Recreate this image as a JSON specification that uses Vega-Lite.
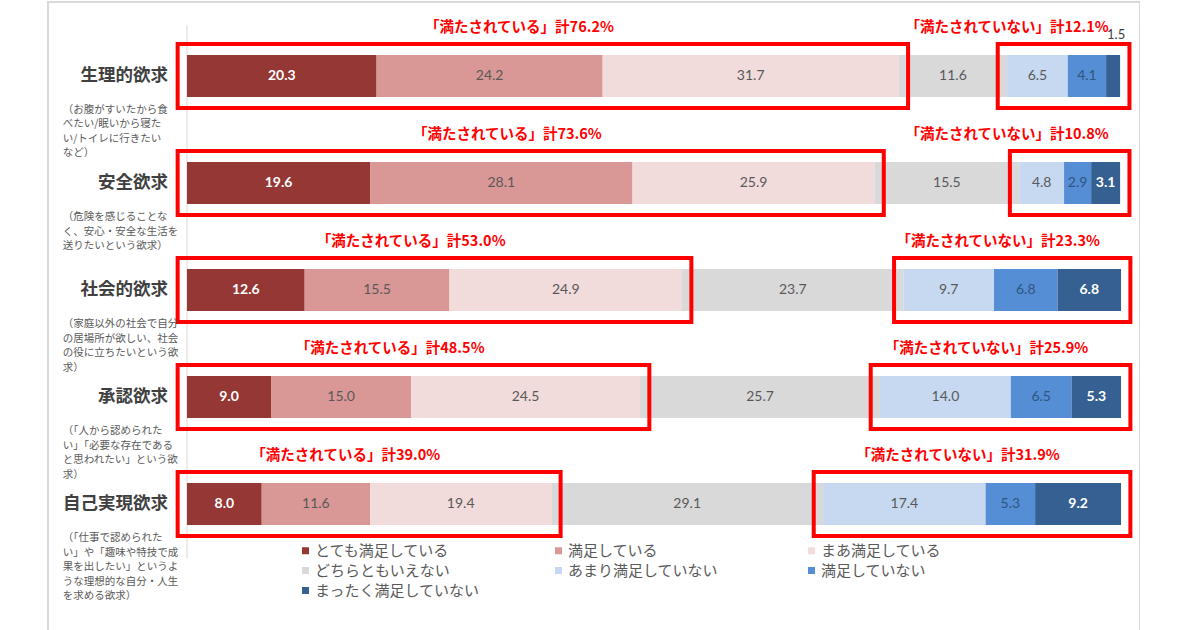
{
  "$schema": "https://vega.github.io/schema/vega-lite/v6.json",
  "autosize": {"type": "none"},
  "padding": {"left": 48, "top": 2, "right": 0, "bottom": 0},
  "width": 1092,
  "height": 640,
  "background": "white",
  "config": {"view": {"stroke": "#D9D9D9", "strokeWidth": 2}},
  "datasets": {
    "bars": [
      {"need": "生理的欲求", "cat": "とても満足している", "value": 20.3},
      {"need": "生理的欲求", "cat": "満足している", "value": 24.2},
      {"need": "生理的欲求", "cat": "まあ満足している", "value": 31.7},
      {"need": "生理的欲求", "cat": "どちらともいえない", "value": 11.6},
      {"need": "生理的欲求", "cat": "あまり満足していない", "value": 6.5},
      {"need": "生理的欲求", "cat": "満足していない", "value": 4.1},
      {"need": "生理的欲求", "cat": "まったく満足していない", "value": 1.5},
      {"need": "安全欲求", "cat": "とても満足している", "value": 19.6},
      {"need": "安全欲求", "cat": "満足している", "value": 28.1},
      {"need": "安全欲求", "cat": "まあ満足している", "value": 25.9},
      {"need": "安全欲求", "cat": "どちらともいえない", "value": 15.5},
      {"need": "安全欲求", "cat": "あまり満足していない", "value": 4.8},
      {"need": "安全欲求", "cat": "満足していない", "value": 2.9},
      {"need": "安全欲求", "cat": "まったく満足していない", "value": 3.1},
      {"need": "社会的欲求", "cat": "とても満足している", "value": 12.6},
      {"need": "社会的欲求", "cat": "満足している", "value": 15.5},
      {"need": "社会的欲求", "cat": "まあ満足している", "value": 24.9},
      {"need": "社会的欲求", "cat": "どちらともいえない", "value": 23.7},
      {"need": "社会的欲求", "cat": "あまり満足していない", "value": 9.7},
      {"need": "社会的欲求", "cat": "満足していない", "value": 6.8},
      {"need": "社会的欲求", "cat": "まったく満足していない", "value": 6.8},
      {"need": "承認欲求", "cat": "とても満足している", "value": 9.0},
      {"need": "承認欲求", "cat": "満足している", "value": 15.0},
      {"need": "承認欲求", "cat": "まあ満足している", "value": 24.5},
      {"need": "承認欲求", "cat": "どちらともいえない", "value": 25.7},
      {"need": "承認欲求", "cat": "あまり満足していない", "value": 14.0},
      {"need": "承認欲求", "cat": "満足していない", "value": 6.5},
      {"need": "承認欲求", "cat": "まったく満足していない", "value": 5.3},
      {"need": "自己実現欲求", "cat": "とても満足している", "value": 8.0},
      {"need": "自己実現欲求", "cat": "満足している", "value": 11.6},
      {"need": "自己実現欲求", "cat": "まあ満足している", "value": 19.4},
      {"need": "自己実現欲求", "cat": "どちらともいえない", "value": 29.1},
      {"need": "自己実現欲求", "cat": "あまり満足していない", "value": 17.4},
      {"need": "自己実現欲求", "cat": "満足していない", "value": 5.3},
      {"need": "自己実現欲求", "cat": "まったく満足していない", "value": 9.2}
    ],
    "totals": [
      {"need": "生理的欲求", "sat": 76.2, "unsat": 12.1},
      {"need": "安全欲求", "sat": 73.6, "unsat": 10.8},
      {"need": "社会的欲求", "sat": 53.0, "unsat": 23.3},
      {"need": "承認欲求", "sat": 48.5, "unsat": 25.9},
      {"need": "自己実現欲求", "sat": 39.0, "unsat": 31.9}
    ],
    "desc": [
      {"need": "生理的欲求", "desc": "（お腹がすいたから食\nべたい/眠いから寝た\nい/トイレに行きたい\nなど）"},
      {"need": "安全欲求", "desc": "（危険を感じることな\nく、安心・安全な生活を\n送りたいという欲求）"},
      {"need": "社会的欲求", "desc": "（家庭以外の社会で自分\nの居場所が欲しい、社会\nの役に立ちたいという欲\n求）"},
      {"need": "承認欲求", "desc": "（「人から認められた\nい」「必要な存在である\nと思われたい」という欲\n求）"},
      {"need": "自己実現欲求", "desc": "（「仕事で認められた\nい」や「趣味や特技で成\n果を出したい」というよ\nうな理想的な自分・人生\nを求める欲求）"}
    ]
  },
  "encoding": {
    "y": {
      "field": "need",
      "type": "nominal",
      "sort": ["生理的欲求", "安全欲求", "社会的欲求", "承認欲求", "自己実現欲求"],
      "scale": {"paddingInner": 0.6075, "paddingOuter": 0.794, "align": 0.3118},
      "axis": null
    }
  },
  "layer": [
    {
      "data": {"values": [{}]},
      "mark": {"type": "rule", "color": "#D9D9D9", "strokeWidth": 1},
      "encoding": {
        "x": {"datum": 0, "type": "quantitative", "scale": {"domain": [-14.88, 102.03], "nice": false, "zero": false}, "axis": null},
        "y": {"datum": "生理的欲求", "type": "nominal", "bandPosition": -0.71},
        "y2": {"datum": "自己実現欲求", "bandPosition": 1.79}
      }
    },
    {
      "data": {"name": "bars"},
      "transform": [
        {"calculate": "indexof(['とても満足している','満足している','まあ満足している','どちらともいえない','あまり満足していない','満足していない','まったく満足していない'], datum.cat)", "as": "ord"},
        {"stack": "value", "groupby": ["need"], "sort": [{"field": "ord", "order": "ascending"}], "as": ["x0", "x1"]},
        {"calculate": "(datum.x0 + datum.x1) / 2", "as": "xm"}
      ],
      "layer": [
        {
          "mark": {"type": "bar"},
          "encoding": {
            "x": {"field": "x0", "type": "quantitative", "scale": {"domain": [-14.88, 102.03], "nice": false, "zero": false}, "axis": null},
            "x2": {"field": "x1"},
            "color": {
              "field": "cat",
              "type": "nominal",
              "scale": {
                "domain": ["とても満足している", "満足している", "まあ満足している", "どちらともいえない", "あまり満足していない", "満足していない", "まったく満足していない"],
                "range": ["#953735", "#D99795", "#F2DCDB", "#D9D9D9", "#C6D9F1", "#558ED5", "#376092"]
              },
              "legend": {
                "title": null,
                "orient": "none",
                "direction": "horizontal",
                "legendX": 250,
                "legendY": 541,
                "columns": 3,
                "gridAlign": "all",
                "columnPadding": 70,
                "rowPadding": 4,
                "symbolType": "square",
                "symbolSize": 49,
                "symbolStrokeWidth": 0,
                "labelFont": "Noto Sans CJK JP",
                "labelFontSize": 15,
                "labelColor": "#595959",
                "labelOffset": 2,
                "labelLimit": 300
              }
            }
          }
        },
        {
          "transform": [{"filter": "datum.ord == 0 || (datum.ord == 6 && datum.value >= 2)"}],
          "mark": {"type": "text", "font": "Lato", "fontSize": 14, "fontWeight": "bold", "color": "white", "baseline": "middle"},
          "encoding": {
            "x": {"field": "xm", "type": "quantitative"},
            "text": {"field": "value", "type": "quantitative", "format": ".1f"}
          }
        },
        {
          "transform": [{"filter": "datum.ord >= 1 && datum.ord <= 5"}],
          "mark": {"type": "text", "font": "Lato", "fontSize": 14, "baseline": "middle"},
          "encoding": {
            "x": {"field": "xm", "type": "quantitative"},
            "text": {"field": "value", "type": "quantitative", "format": ".1f"},
            "color": {"condition": {"test": "datum.ord == 5", "value": "#2F5580"}, "value": "#595959"}
          }
        },
        {
          "transform": [{"filter": "datum.ord == 6 && datum.value < 2"}],
          "mark": {"type": "text", "font": "Lato", "fontSize": 13, "baseline": "middle", "color": "#404040", "dy": -41, "dx": 3},
          "encoding": {
            "x": {"field": "xm", "type": "quantitative"},
            "text": {"field": "value", "type": "quantitative", "format": ".1f"}
          }
        }
      ]
    },
    {
      "data": {"name": "bars"},
      "transform": [
        {"calculate": "indexof(['とても満足している','満足している','まあ満足している','どちらともいえない','あまり満足していない','満足していない','まったく満足していない'], datum.cat)", "as": "ord"},
        {"stack": "value", "groupby": ["need"], "sort": [{"field": "ord", "order": "ascending"}], "as": ["x0", "x1"]},
        {"calculate": "datum.ord <= 2 ? 'sat' : (datum.ord == 3 ? 'neu' : 'unsat')", "as": "grp"},
        {"filter": "datum.grp != 'neu'"},
        {"aggregate": [{"op": "min", "field": "x0", "as": "lo"}, {"op": "max", "field": "x1", "as": "hi"}], "groupby": ["need", "grp"]},
        {"calculate": "datum.lo - 1", "as": "blo"},
        {"calculate": "datum.hi + 1", "as": "bhi"},
        {"lookup": "need", "from": {"data": {"name": "totals"}, "key": "need", "fields": ["sat", "unsat"]}},
        {"calculate": "datum.grp == 'sat' ? '「満たされている」計' + format(datum.sat, '.1f') + '%' : '「満たされていない」計' + format(datum.unsat, '.1f') + '%'", "as": "label"},
        {"calculate": "datum.grp == 'sat' ? (datum.blo + datum.bhi) / 2 - 2.5 : min((datum.blo + datum.bhi) / 2 - 1.5, 87.8)", "as": "lx"}
      ],
      "layer": [
        {
          "mark": {"type": "bar", "fill": null, "fillOpacity": 0, "stroke": "#FF0000", "strokeWidth": 4, "size": 64},
          "encoding": {
            "x": {"field": "blo", "type": "quantitative", "scale": {"domain": [-14.88, 102.03], "nice": false, "zero": false}, "axis": null},
            "x2": {"field": "bhi"}
          }
        },
        {
          "mark": {"type": "text", "font": "Noto Sans CJK JP", "fontSize": 14.5, "fontWeight": "bold", "color": "#FF0000", "baseline": "middle", "dy": -48},
          "encoding": {
            "x": {"field": "lx", "type": "quantitative"},
            "text": {"field": "label", "type": "nominal"}
          }
        }
      ]
    },
    {
      "data": {"name": "desc"},
      "layer": [
        {
          "mark": {"type": "text", "font": "Noto Sans CJK JP", "fontSize": 17.5, "fontWeight": "bold", "color": "#404040", "align": "right", "baseline": "middle"},
          "encoding": {
            "x": {"datum": -2.03, "type": "quantitative"},
            "text": {"field": "need", "type": "nominal"}
          }
        },
        {
          "mark": {"type": "text", "font": "Noto Sans CJK JP", "fontSize": 10.5, "color": "#595959", "align": "left", "baseline": "top", "dy": 29, "lineBreak": "\n", "lineHeight": 14.5},
          "encoding": {
            "x": {"datum": -13.3, "type": "quantitative"},
            "text": {"field": "desc", "type": "nominal"}
          }
        }
      ]
    }
  ]
}
